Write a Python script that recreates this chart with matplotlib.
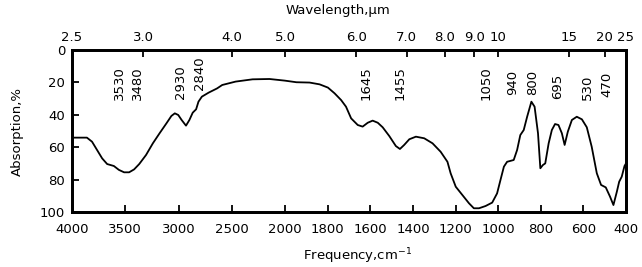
import numpy as np
import matplotlib
matplotlib.use('Agg')
import matplotlib.pyplot as plt

# spectrum (frequency cm-1, absorption %)
freq = [4000, 3860, 3812, 3765, 3717, 3670, 3607, 3560, 3511, 3464, 3417, 3369,
        3305, 3241, 3178, 3114, 3067, 3035, 3003, 2971, 2930, 2898, 2867, 2835,
        2813, 2781, 2717, 2638, 2590, 2464, 2305, 2146, 2003, 1947, 1885, 1838,
        1799, 1768, 1737, 1714, 1690, 1659, 1636, 1612, 1589, 1565, 1542, 1511,
        1480, 1461, 1441, 1417, 1386, 1347, 1308, 1270, 1238, 1223, 1199, 1168,
        1137, 1114, 1090, 1059, 1028, 1005, 989, 973, 958, 927, 911, 896, 880,
        864, 844, 829, 813, 802, 790, 779, 763, 748, 733, 717, 701, 688, 673,
        654, 631, 607, 584, 561, 537, 517, 495, 475, 459, 443, 432, 420, 407, 400]
absorb = [54.1, 54.1, 56.6, 61.7, 66.9, 70.4, 71.6, 74.0, 75.5, 75.5, 73.7, 70.4,
          64.8, 57.6, 51.4, 45.3, 40.7, 39.1, 40.1, 43.2, 46.7, 43.2, 38.7, 36.6,
          31.9, 28.8, 26.3, 23.7, 21.6, 19.5, 18.1, 17.9, 18.9, 19.9, 20.1, 21.2,
          23.2, 26.7, 30.9, 35.0, 42.2, 46.3, 47.3, 44.9, 43.6, 44.9, 47.7, 53.1,
          59.3, 61.1, 58.6, 55.1, 53.5, 54.5, 57.6, 62.8, 69.0, 76.1, 84.4, 89.5,
          94.6, 97.7, 97.7, 96.3, 94.2, 88.5, 80.2, 72.0, 69.0, 67.9, 61.7, 52.5,
          49.4, 41.2, 31.9, 35.0, 51.4, 73.0, 71.0, 70.0, 57.6, 49.4, 45.7, 46.3,
          51.4, 58.6, 50.4, 43.2, 41.2, 42.8, 47.7, 59.7, 76.1, 83.3, 84.8, 90.5,
          95.7, 87.5, 81.3, 78.2, 71.6, 70.0]

# peak labels and where they sit
peak_labels = ['3530', '3480', '2930', '2840', '1645', '1455', '1050', '940',
               '800', '695', '530', '470']
peak_pos = [3550, 3390, 2980, 2800, 1620, 1462, 1058, 933, 840, 720, 581, 490]
peak_bottom = [31, 31, 30, 25, 31, 31, 31, 28, 28, 30, 31, 29]

freq_ticks = [4000, 3500, 3000, 2500, 2000, 1800, 1600, 1400, 1200, 1000, 800, 600, 400]
abs_ticks = [0, 20, 40, 60, 80, 100]
wl_ticks = [2.5, 3.0, 4.0, 5.0, 6.0, 7.0, 8.0, 9.0, 10, 15, 20, 25]
wl_labels = ['2.5', '3.0', '4.0', '5.0', '6.0', '7.0', '8.0', '9.0', '10', '15', '20', '25']


# chart paper: 4000-2000 is drawn at half the scale of 2000-400
def fwd(x):
    x = np.asarray(x, dtype=float)
    return np.where(x > 2000, 2000 + (x - 2000) / 2, x)


def inv(u):
    u = np.asarray(u, dtype=float)
    return np.where(u > 2000, 2000 + (u - 2000) * 2, u)


plt.rcParams['font.family'] = ['DejaVu Sans']
plt.rcParams['font.size'] = 9.5

fig = plt.figure(figsize=(6.42, 2.67), dpi=100)
ax = fig.add_axes([72 / 642, 1 - 212 / 267, 554 / 642, 162 / 267])
ax.set_xscale('function', functions=(fwd, inv))
ax.plot(freq, absorb, color='black', lw=1.3)
ax.set_xlim(4000, 400)
ax.set_ylim(100, 0)
ax.set_xticks(freq_ticks)
ax.set_xticklabels([str(t) for t in freq_ticks])
ax.set_yticks(abs_ticks)
ax.minorticks_off()
ax.tick_params(direction='in', length=5, width=1.3, pad=5)
ax.tick_params(axis='x', pad=8)

for s in ax.spines.values():
    s.set_linewidth(2)

for lab, x, yb in zip(peak_labels, peak_pos, peak_bottom):
    ax.text(x, yb, lab, rotation=90, ha='center', va='bottom', fontsize=9.5)

ax.set_xlabel('Frequency,cm$^{-1}$')
ax.xaxis.set_label_coords(0.516, -0.215)
ax.set_ylabel('Absorption,%')
ax.yaxis.set_label_coords(-0.087, 0.5)

top = ax.twiny()
top.set_xscale('function', functions=(fwd, inv))
top.set_xlim(4000, 400)
top.set_xticks([10000 / w for w in wl_ticks])
top.set_xticklabels(wl_labels)
top.minorticks_off()
top.tick_params(direction='in', length=5, width=1.3, pad=4)
top.set_xlabel('Wavelength,\u00b5m')
top.xaxis.set_label_coords(0.48, 1.225)
for s in top.spines.values():
    s.set_linewidth(2)

fig.savefig('out.png', dpi=100)
